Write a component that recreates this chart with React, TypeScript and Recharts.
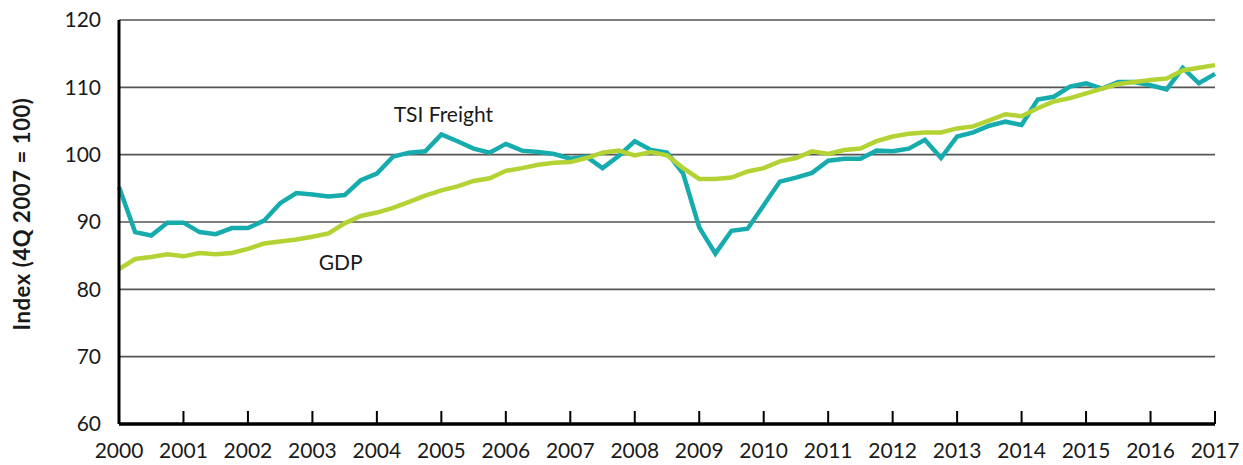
import React from 'react';
import { LineChart, Line, XAxis, YAxis, CartesianGrid, ReferenceDot } from 'recharts';

const quarters = [
  '2000Q1','2000Q2','2000Q3','2000Q4','2001Q1','2001Q2','2001Q3','2001Q4',
  '2002Q1','2002Q2','2002Q3','2002Q4','2003Q1','2003Q2','2003Q3','2003Q4',
  '2004Q1','2004Q2','2004Q3','2004Q4','2005Q1','2005Q2','2005Q3','2005Q4',
  '2006Q1','2006Q2','2006Q3','2006Q4','2007Q1','2007Q2','2007Q3','2007Q4',
  '2008Q1','2008Q2','2008Q3','2008Q4','2009Q1','2009Q2','2009Q3','2009Q4',
  '2010Q1','2010Q2','2010Q3','2010Q4','2011Q1','2011Q2','2011Q3','2011Q4',
  '2012Q1','2012Q2','2012Q3','2012Q4','2013Q1','2013Q2','2013Q3','2013Q4',
  '2014Q1','2014Q2','2014Q3','2014Q4','2015Q1','2015Q2','2015Q3','2015Q4',
  '2016Q1','2016Q2','2016Q3','2016Q4','2017Q1',
];

const tsiFreight = [
  95.2, 88.5, 88.0, 89.9, 89.9, 88.5, 88.2, 89.1,
  89.1, 90.2, 92.8, 94.3, 94.1, 93.8, 94.0, 96.2,
  97.2, 99.7, 100.3, 100.5, 103.0, 102.0, 100.9, 100.3,
  101.6, 100.6, 100.4, 100.1, 99.4, 99.7, 98.0, 99.8,
  102.0, 100.7, 100.3, 97.2, 89.2, 85.3, 88.7, 89.0,
  92.5, 96.0, 96.6, 97.3, 99.1, 99.4, 99.4, 100.6,
  100.5, 100.9, 102.2, 99.5, 102.7, 103.3, 104.3, 104.9,
  104.4, 108.2, 108.6, 110.1, 110.6, 109.8, 110.8, 110.8,
  110.3, 109.7, 112.9, 110.6, 112.0,
];

const gdp = [
  83.0, 84.5, 84.8, 85.2, 84.9, 85.4, 85.2, 85.4,
  86.0, 86.8, 87.1, 87.4, 87.8, 88.3, 89.8, 90.9,
  91.4, 92.1, 93.0, 93.9, 94.7, 95.3, 96.1, 96.5,
  97.6, 98.0, 98.5, 98.8, 98.9, 99.5, 100.3, 100.6,
  99.9, 100.4, 99.9, 98.0, 96.4, 96.4, 96.6, 97.5,
  98.0, 99.0, 99.5, 100.5, 100.1, 100.7, 100.9, 102.0,
  102.7, 103.1, 103.3, 103.3, 103.9, 104.2, 105.1, 106.0,
  105.7, 106.9, 107.9, 108.4, 109.1, 109.8, 110.5, 110.8,
  111.1, 111.3, 112.5, 112.9, 113.3,
];

const yearTicks = [
  '2000Q1','2001Q1','2002Q1','2003Q1','2004Q1','2005Q1','2006Q1','2007Q1','2008Q1',
  '2009Q1','2010Q1','2011Q1','2012Q1','2013Q1','2014Q1','2015Q1','2016Q1','2017Q1',
];

const yTicks = [60, 70, 80, 90, 100, 110, 120];

const data = quarters.map((q, i) => ({ q, tsi: tsiFreight[i], gdp: gdp[i] }));

const FONT = 'Lato, "Open Sans", sans-serif';
const TEXT = '#1a1a1a';

const YLabel = () => (
  <text
    x={21}
    y={214}
    transform="rotate(-90 21 214)"
    textAnchor="middle"
    dominantBaseline="central"
    fontFamily={FONT}
    fontWeight={700}
    fontSize={22}
    letterSpacing={0.6}
    fill={TEXT}
  >
    Index (4Q 2007 = 100)
  </text>
);

const XTick = (props: any) => {
  const { x, payload } = props;
  const px = Number(x);
  const label = String(payload && payload.value).slice(0, 4);
  return (
    <g>
      {label !== '2000' && (
        <rect x={px - 1} y={411} width={2} height={13} fill="#000" />
      )}
      <text
        x={px}
        y={458}
        textAnchor="middle"
        fontFamily={FONT}
        fontSize={21}
        fill={TEXT}
      >
        {label}
      </text>
    </g>
  );
};

export default function App() {
  return (
    <div style={{ position: 'absolute', left: 0, top: 0, width: 1243, height: 465, background: '#fff' }}>
      <LineChart
        width={1243}
        height={465}
        data={data}
        margin={{ top: 20, right: 28, bottom: 0, left: 0 }}
      >
        <CartesianGrid vertical={false} stroke="#555" strokeWidth={1.6} />
        <XAxis
          dataKey="q"
          type="category"
          ticks={yearTicks}
          interval={0}
          height={41}
          axisLine={{ stroke: '#000', strokeWidth: 3.5 }}
          tickLine={false}
          tickSize={0}
          tickMargin={0}
          tick={<XTick />}
        />
        <YAxis
          type="number"
          domain={[60, 120]}
          ticks={yTicks}
          interval={0}
          width={119}
          axisLine={{ stroke: '#000', strokeWidth: 3 }}
          tickLine={false}
          tickSize={0}
          tickMargin={18}
          tick={{ fontFamily: FONT, fontSize: 21, fill: TEXT }}
          label={<YLabel />}
        />
        <Line
          type="linear"
          dataKey="tsi"
          stroke="#16ACAE"
          strokeWidth={4.5}
          dot={false}
          isAnimationActive={false}
        />
        <Line
          type="linear"
          dataKey="gdp"
          stroke="#B3D335"
          strokeWidth={4.5}
          dot={false}
          isAnimationActive={false}
        />
        <ReferenceDot
          x="2005Q1"
          y={106}
          r={0}
          fill="none"
          stroke="none"
          label={{ value: 'TSI Freight', position: 'center', dx: 2, fontFamily: FONT, fontSize: 21, fill: TEXT }}
        />
        <ReferenceDot
          x="2003Q3"
          y={84}
          r={0}
          fill="none"
          stroke="none"
          label={{ value: 'GDP', position: 'center', dx: -4, fontFamily: FONT, fontSize: 21, fill: TEXT }}
        />
      </LineChart>
    </div>
  );
}
